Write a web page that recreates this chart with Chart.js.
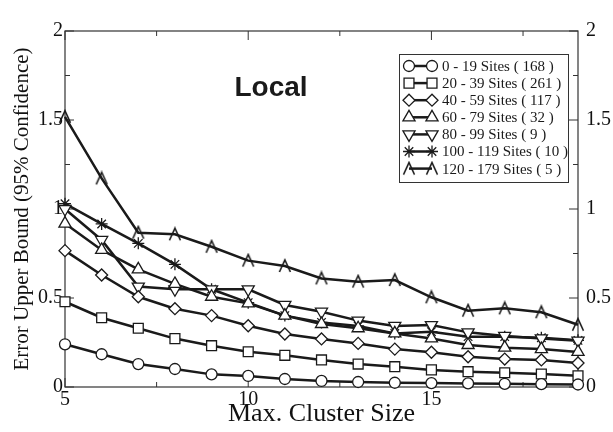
<!DOCTYPE html>
<html><head><meta charset="utf-8">
<script src="https://cdn.jsdelivr.net/npm/chart.js@4/dist/chart.umd.min.js"></script>
<style>html,body{margin:0;padding:0;background:#fff}#wrap{width:613px;height:432px;position:relative}</style>
</head><body><div id="wrap"><canvas id="c" width="613" height="432"></canvas></div>
<script>
// ---- data ----
const clusterSizes = [5,6,7,8,9,10,11,12,13,14,15,16,17,18,19];
const sites0to19    = [0.240,0.184,0.129,0.101,0.071,0.062,0.045,0.034,0.028,0.024,0.022,0.020,0.018,0.016,0.014];
const sites20to39   = [0.479,0.389,0.330,0.272,0.232,0.198,0.178,0.152,0.129,0.114,0.096,0.086,0.080,0.073,0.063];
const sites40to59   = [0.766,0.629,0.507,0.440,0.401,0.344,0.298,0.270,0.245,0.213,0.195,0.170,0.157,0.152,0.135];
const sites60to79   = [0.918,0.770,0.661,0.579,0.507,0.470,0.401,0.354,0.330,0.301,0.273,0.236,0.221,0.213,0.197];
const sites80to99   = [1.000,0.826,0.564,0.549,0.549,0.549,0.461,0.423,0.373,0.343,0.348,0.307,0.287,0.273,0.260];
const sites100to119 = [1.030,0.916,0.807,0.689,0.549,0.474,0.401,0.363,0.343,0.301,0.311,0.283,0.283,0.277,0.262];
const sites120to179 = [1.518,1.172,0.867,0.858,0.788,0.710,0.680,0.610,0.592,0.601,0.504,0.429,0.442,0.420,0.350];
const seriesLabels = ['0 - 19 Sites ( 168 )','20 - 39 Sites ( 261 )','40 - 59 Sites ( 117 )','60 - 79 Sites ( 32 )','80 - 99 Sites ( 9 )','100 - 119 Sites ( 10 )','120 - 179 Sites ( 5 )'];
const xTickLabels = ['5','10','15'];
const yTickLabels = ['0','0.5','1','1.5','2'];
const chartTitle = 'Local';
const xTitle = 'Max. Cluster Size';
const yTitle = 'Error Upper Bound (95% Confidence)';

const INK = '#1a1a1a';
function makeLambda(){
  const c = document.createElement('canvas'); c.width = 16; c.height = 16;
  const g = c.getContext('2d'); g.strokeStyle = INK; g.lineWidth = 1.6; g.lineJoin='miter';
  g.beginPath(); g.moveTo(2.5,14); g.lineTo(8,2); g.lineTo(13.5,14); g.stroke();
  return c;
}
const lambda = makeLambda();
const styles = [
  {pointStyle:'circle', radius:5.5, rotation:0},
  {pointStyle:'rect', radius:7, rotation:0},
  {pointStyle:'rectRot', radius:6, rotation:0},
  {pointStyle:'triangle', radius:7, rotation:0},
  {pointStyle:'triangle', radius:7, rotation:180},
  {pointStyle:'star', radius:6, rotation:0},
  {pointStyle:lambda, radius:6, rotation:0}
];
const seriesValues = [sites0to19,sites20to39,sites40to59,sites60to79,sites80to99,sites100to119,sites120to179];
const datasets = seriesValues.map((vals,i)=>({
  label: seriesLabels[i],
  data: clusterSizes.map((x,j)=>({x:x, y:vals[j]})),
  borderColor: INK, borderWidth: 2.5,
  pointStyle: styles[i].pointStyle, pointRadius: styles[i].radius, pointRotation: styles[i].rotation,
  pointBorderColor: INK, pointBackgroundColor: '#fff', pointBorderWidth: 1.3,
  tension: 0, fill: false, clip: false
}));

function drawMarker(ctx, st, x, y){
  ctx.save();
  ctx.fillStyle = '#fff'; ctx.strokeStyle = INK; ctx.lineWidth = 1.3;
  if (Chart.helpers && Chart.helpers.drawPoint) {
    Chart.helpers.drawPoint(ctx, {pointStyle: st.pointStyle, radius: st.radius, rotation: st.rotation, borderWidth: 1.3}, x, y);
  } else {
    ctx.beginPath(); ctx.arc(x,y,st.radius,0,Math.PI*2); ctx.fill(); ctx.stroke();
  }
  ctx.restore();
}

const framePlugin = {
  id: 'frame',
  beforeDatasetsDraw(chart){
    const {ctx, chartArea:a, scales} = chart;
    ctx.save();
    ctx.strokeStyle = '#333'; ctx.lineWidth = 1.2;
    ctx.strokeRect(a.left, a.top, a.right-a.left, a.bottom-a.top);
    ctx.lineWidth = 1;
    for (let v = 5; v <= 19.001; v += 2.5) {
      const px = scales.x.getPixelForValue(v);
      const len = (Math.abs(v % 5) < 1e-6) ? 9 : 5;
      ctx.beginPath(); ctx.moveTo(px, a.bottom); ctx.lineTo(px, a.bottom-len);
      ctx.moveTo(px, a.top); ctx.lineTo(px, a.top+len); ctx.stroke();
    }
    for (let v = 0; v <= 2.001; v += 0.25) {
      const py = scales.y.getPixelForValue(v);
      const len = (Math.abs((v*2) % 1) < 1e-6) ? 9 : 5;
      ctx.beginPath(); ctx.moveTo(a.left, py); ctx.lineTo(a.left+len, py);
      ctx.moveTo(a.right, py); ctx.lineTo(a.right-len, py); ctx.stroke();
    }
    ctx.restore();
  },
  afterDatasetsDraw(chart){
    const {ctx} = chart;
    ctx.save();
    // title
    ctx.fillStyle = INK; ctx.font = 'bold 28px "Liberation Sans", Arial, sans-serif';
    ctx.textAlign = 'center'; ctx.textBaseline = 'middle';
    ctx.fillText(chartTitle, 271, 88);
    // legend
    const L = 399, T = 54, R = 568, B = 182;
    ctx.fillStyle = '#fff'; ctx.fillRect(L, T, R-L, B-T);
    ctx.strokeStyle = '#333'; ctx.lineWidth = 1; ctx.strokeRect(L+0.5, T+0.5, R-L, B-T);
    ctx.font = '15px "Liberation Serif", "Times New Roman", serif';
    ctx.textAlign = 'left';
    seriesLabels.forEach((lab,i)=>{
      const y = 66 + i*17.1;
      ctx.strokeStyle = INK; ctx.lineWidth = 2.5;
      ctx.beginPath(); ctx.moveTo(409,y); ctx.lineTo(432,y); ctx.stroke();
      drawMarker(ctx, styles[i], 409, y);
      drawMarker(ctx, styles[i], 432, y);
      ctx.fillStyle = INK; ctx.fillText(lab, 442, y+1);
    });
    ctx.restore();
  }
};

const serif = '"Liberation Serif", "Times New Roman", serif';
new Chart(document.getElementById('c'), {
  type: 'line',
  data: { datasets },
  plugins: [framePlugin],
  options: {
    responsive: false, animation: false,
    layout: { padding: { top: 31, left: 0, right: 0, bottom: 0 } },
    plugins: { legend: { display: false }, tooltip: { enabled: false } },
    scales: {
      x: {
        type: 'linear', min: 5, max: 19, position: 'bottom',
        grid: { display: false, drawTicks: false }, border: { display: false },
        ticks: { stepSize: 2.5, autoSkip: false, maxRotation: 0, padding: 1, color: '#111',
          font: { family: serif, size: 20 },
          callback: v => { const s = String(v); return xTickLabels.includes(s) ? s : ''; } },
        title: { display: true, text: xTitle, color: '#111', font: { family: serif, size: 26 }, padding: { top: 0, bottom: 2 } },
        afterFit: s => { s.height = 45; }
      },
      y: {
        type: 'linear', min: 0, max: 2, position: 'left',
        grid: { display: false, drawTicks: false }, border: { display: false },
        ticks: { stepSize: 0.5, padding: 2, color: '#111', font: { family: serif, size: 20 },
          callback: v => { const s = String(v); return yTickLabels.includes(s) ? s : ''; } },
        title: { display: true, text: yTitle, color: '#111', font: { family: serif, size: 21 }, padding: { top: 10, bottom: 0 } },
        afterFit: s => { s.width = 65; }
      },
      y2: {
        type: 'linear', min: 0, max: 2, position: 'right',
        grid: { display: false, drawTicks: false }, border: { display: false },
        ticks: { stepSize: 0.5, padding: 8, color: '#111', font: { family: serif, size: 20 },
          callback: v => { const s = String(v); return yTickLabels.includes(s) ? s : ''; } },
        afterFit: s => { s.width = 35; }
      }
    }
  }
});
</script></body></html>
